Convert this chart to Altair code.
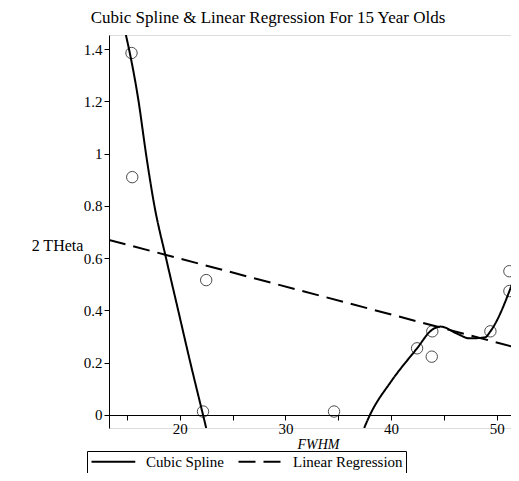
import altair as alt
import pandas as pd

# observed points
pts_x = [15.43, 15.5, 22.5, 22.2, 34.6, 42.46, 43.85, 43.9, 49.4, 51.2, 51.2]
pts_y = [1.385, 0.91, 0.516, 0.013, 0.013, 0.255, 0.223, 0.32, 0.32, 0.474, 0.55]

# cubic spline (two visible pieces)
spl1_x = [14.9, 15.27, 16.1, 16.8, 17.6, 18.7, 19.85, 21.0, 22.2, 22.5]
spl1_y = [1.454, 1.385, 1.2, 1.0, 0.8, 0.6, 0.4, 0.2, 0.0, -0.05]
spl2_x = [37.45, 38.0, 40.0, 42.46, 43.85, 44.7, 46.3, 47.4, 48.9, 49.4, 51.2, 52.1]
spl2_y = [-0.05, 0.0, 0.128, 0.255, 0.325, 0.338, 0.31, 0.293, 0.297, 0.32, 0.474, 0.58]

# linear regression
reg_x = [13.3, 52.1]
reg_y = [0.67, 0.255]

XD = [13.3, 51.35]
YD = [-0.05, 1.454]
FONT = "Liberation Serif"

rows = []
for x, y in zip(spl1_x, spl1_y):
    rows.append({"x": x, "y": y, "series": "Cubic Spline", "seg": "a"})
for x, y in zip(spl2_x, spl2_y):
    rows.append({"x": x, "y": y, "series": "Cubic Spline", "seg": "b"})
for x, y in zip(reg_x, reg_y):
    rows.append({"x": x, "y": y, "series": "Linear Regression", "seg": "c"})
lines_df = pd.DataFrame(rows)
pts_df = pd.DataFrame({"x": pts_x, "y": pts_y})

xs = alt.Scale(domain=XD, nice=False, zero=False)
ys = alt.Scale(domain=YD, nice=False, zero=False)

xaxis = alt.Axis(
    values=[15, 20, 25, 30, 35, 40, 45, 50],
    labelExpr="datum.value % 10 == 0 ? datum.value : ''",
    grid=False, offset=-13, tickSize=5, domainColor="black", tickColor="black",
    labelFont=FONT, labelFontSize=15, labelColor="black", labelPadding=1,
    title="FWHM", titleFont=FONT, titleFontStyle="italic", titleFontWeight="normal",
    titleFontSize=14, titleColor="black", titleX=209, titleY=29, titleBaseline="middle",
)
yaxis = alt.Axis(
    values=[round(i * 0.1, 1) for i in range(0, 15)],
    labelExpr="(round(datum.value*10) % 2 == 0) ? format(datum.value, '~g') : ''",
    grid=False, tickSize=5, domainColor="black", tickColor="black",
    labelFont=FONT, labelFontSize=15, labelColor="black", labelPadding=2,
    title="2 THeta", titleFont=FONT, titleFontWeight="normal", titleFontSize=16,
    titleColor="black", titleAngle=0, titleX=-52, titleY=210, titleAlign="center",
    titleBaseline="middle",
)

lines = alt.Chart(lines_df).mark_line(
    color="black", strokeWidth=2, clip=True, interpolate="monotone"
).encode(
    x=alt.X("x:Q", scale=xs, axis=xaxis),
    y=alt.Y("y:Q", scale=ys, axis=yaxis),
    detail="seg:N",
    strokeDash=alt.StrokeDash(
        "series:N",
        scale=alt.Scale(domain=["Cubic Spline", "Linear Regression"], range=[[1, 0], [17, 8]]),
        legend=alt.Legend(
            orient="none", legendX=-22, legendY=416, direction="horizontal", title=None,
            strokeColor="black", padding=3, labelFont=FONT, labelFontSize=15,
            labelColor="black", symbolType="M-1,0H6.3", symbolSize=144,
            symbolStrokeWidth=2, symbolStrokeColor="black", labelOffset=41,
            columnPadding=10, cornerRadius=0,
        ),
    ),
)

points = alt.Chart(pts_df).mark_point(
    shape="circle", filled=False, color="black", size=130, strokeWidth=1
).encode(x=alt.X("x:Q", scale=xs), y=alt.Y("y:Q", scale=ys))

chart = (lines + points).properties(
    width=402, height=393,
    title=alt.TitleParams(
        "Cubic Spline & Linear Regression For 15 Year Olds", font=FONT, fontSize=17,
        fontWeight="normal", color="black", anchor="middle", dx=-42, offset=8,
    ),
    autosize=alt.AutoSizeParams(type="none"),
    padding={"left": 101, "top": 27, "right": 0, "bottom": 45},
).configure_view(stroke=None).configure(background="white")

chart.save("out.html", embed_options={"renderer": "svg", "actions": False})
